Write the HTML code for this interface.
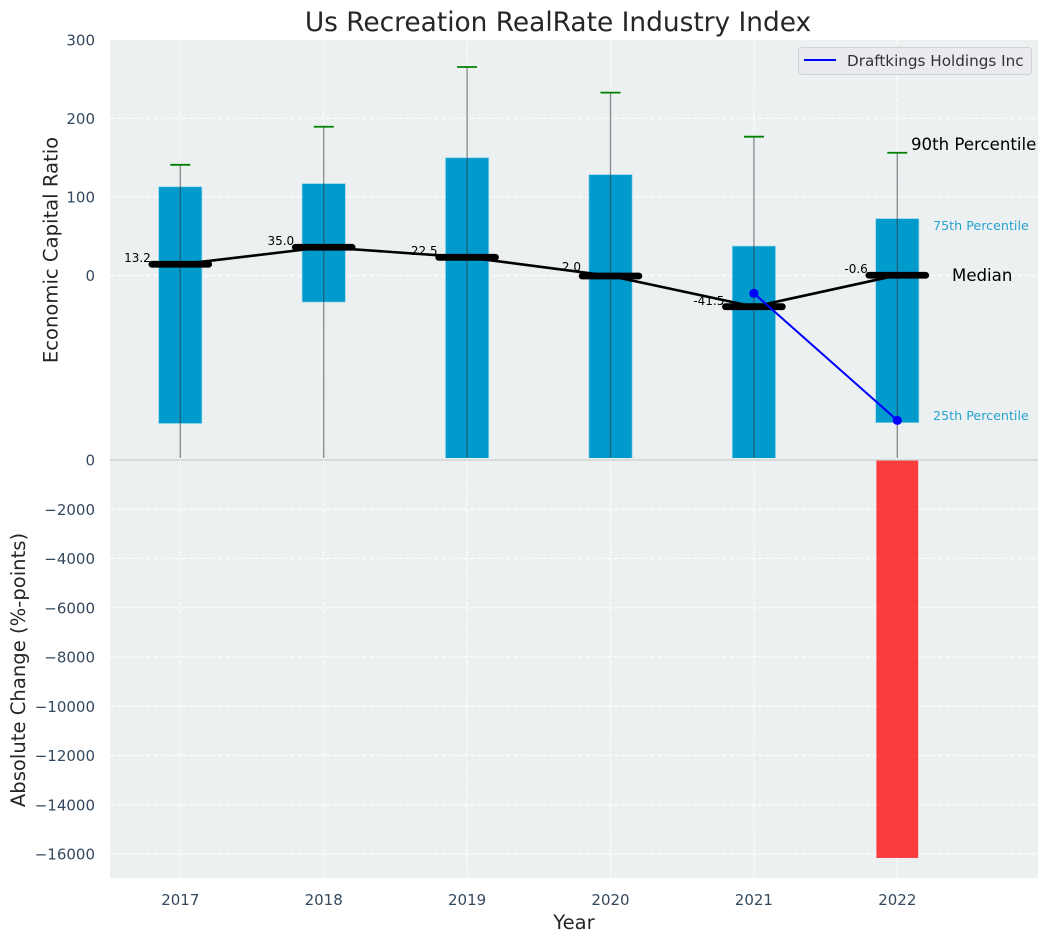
<!DOCTYPE html>
<html lang="en">
<head>
<meta charset="utf-8">
<title>Us Recreation RealRate Industry Index</title>
<style>
html,body{margin:0;padding:0;background:#fff;}
svg{display:block;}
text{font-family:"DejaVu Sans","Liberation Sans",sans-serif;}
</style>
</head>
<body>
<svg id="chart" xmlns="http://www.w3.org/2000/svg" width="1048" height="942" viewBox="0 0 1048 942">
  <defs>
    <clipPath id="top-clip"><rect x="110" y="40" width="928" height="418"></rect></clipPath>
    <clipPath id="bottom-clip"><rect x="110" y="460" width="928" height="418"></rect></clipPath>
  </defs>
  <rect x="110" y="40" width="928" height="419" fill="#ecf0f1"></rect>
  <rect x="110" y="459" width="928" height="419" fill="#ecf0f1"></rect>
  <g id="grid"></g>
  <g id="top-marks" clip-path="url(#top-clip)"></g>
  <g id="bottom-marks" clip-path="url(#bottom-clip)"></g>
  <line x1="110" x2="1038" y1="460" y2="460" stroke="#cccccc" stroke-width="1.2"></line>
  <g id="tick-labels"></g>

  <text x="558" y="31" text-anchor="middle" font-size="26.4" fill="#262626">Us Recreation RealRate Industry Index</text>
  <text transform="translate(57.5,250) rotate(-90)" text-anchor="middle" font-size="19.6" fill="#262626">Economic Capital Ratio</text>
  <text transform="translate(25,670) rotate(-90)" text-anchor="middle" font-size="19.6" fill="#262626">Absolute Change (%-points)</text>
  <text x="574" y="929" text-anchor="middle" font-size="19.6" fill="#262626">Year</text>

  <text x="911" y="150" font-size="16.6" fill="#000">90th Percentile</text>
  <text x="933" y="230" font-size="12.7" fill="#27a3cf">75th Percentile</text>
  <text x="952" y="281" font-size="16.6" fill="#000">Median</text>
  <text x="933" y="420" font-size="12.7" fill="#27a3cf">25th Percentile</text>

  <g>
    <rect x="798.5" y="47.5" width="233" height="27" rx="3" fill="#e9ebf0" stroke="#d0d2d6" stroke-width="1"></rect>
    <line x1="804" x2="836" y1="60" y2="60" stroke="#0000ff" stroke-width="2"></line>
    <text x="847" y="66" font-size="15.2" fill="#333333">Draftkings Holdings Inc</text>
  </g>
</svg>
<script>
const years = [2017, 2018, 2019, 2020, 2021, 2022];
const p90 = [141, 189.5, 265.6, 233, 176.8, 156.4];
const q75 = [113, 117, 150, 128.5, 37.5, 72.4];
const medians = [14.3, 36, 23.2, -0.6, -39.7, 0.3];
const q25 = [-188.5, -33.8, -260, -270, -250, -187.5];
const p10 = [-280, -300, -320, -310, -290, -290];
const medianLabels = [13.2, 35.0, 22.5, 2.0, -41.5, -0.6];
const companyYears = [2021, 2022];
const companyValues = [-22.7, -184.5];
const changeYears = [2022];
const changeValues = [-16160];
const topTicks = [300, 200, 100, 0];
const bottomTicks = [0, -2000, -4000, -6000, -8000, -10000, -12000, -14000, -16000];

const SVGNS = 'http://www.w3.org/2000/svg';
const xS = function (year) { return 180.3 + (year - 2017) * 143.4; };
const yTop = function (v) { return 275.5 - v * 0.785; };
const yBot = function (v) { return 460 - v * 0.024625; };

function mk(parent, tag, attrs, text) {
  const el = document.createElementNS(SVGNS, tag);
  for (const k in attrs) { el.setAttribute(k, attrs[k]); }
  if (text !== undefined) { el.textContent = text; }
  parent.appendChild(el);
  return el;
}

const grid = document.getElementById('grid');
const topG = document.getElementById('top-marks');
const botG = document.getElementById('bottom-marks');
const labels = document.getElementById('tick-labels');
const gridStyle = { stroke: '#ffffff', 'stroke-width': 1.2, 'stroke-dasharray': '5 2.2', 'stroke-opacity': 0.85 };

years.forEach(function (yr) {
  const x = xS(yr);
  const g = mk(grid, 'line', Object.assign({ x1: x, x2: x, y1: 40, y2: 878 }, gridStyle));
  
  
  const t = mk(labels, 'text', { x: x, y: 905, 'text-anchor': 'middle', 'font-size': 15, fill: '#34495e' }, String(yr));
  
  
});

topTicks.forEach(function (v) {
  const y = yTop(v);
  if (v !== 300) {
    const g = mk(grid, 'line', Object.assign({ x1: 110, x2: 1038, y1: y, y2: y }, gridStyle));
    
    
  }
  const t = mk(labels, 'text', { x: 95, y: y + 5.5, 'text-anchor': 'end', 'font-size': 15, fill: '#34495e' }, String(v));
  
  
});

bottomTicks.forEach(function (v) {
  const y = yBot(v);
  if (v !== 0) {
    const g = mk(grid, 'line', Object.assign({ x1: 110, x2: 1038, y1: y, y2: y }, gridStyle));
    
    
  }
  const s = v < 0 ? '\u2212' + Math.abs(v) : String(v);
  const t = mk(labels, 'text', { x: 95, y: y + 5.5, 'text-anchor': 'end', 'font-size': 15, fill: '#34495e' }, s);
  
  
});

years.forEach(function (yr, i) {
  const x = xS(yr);
  const top = yTop(q75[i]);
  const bot = yTop(q25[i]);
  const bar = mk(topG, 'rect', { x: x - 21.6, y: top, width: 43.2, height: bot - top, fill: '#009acd', stroke: '#8fd3ea', 'stroke-width': 0.7 });
  
  
});

years.forEach(function (yr, i) {
  const x = xS(yr);
  const w = mk(topG, 'line', { x1: x, x2: x, y1: yTop(p90[i]), y2: yTop(p10[i]), stroke: '#3c4043', 'stroke-opacity': 0.6, 'stroke-width': 1.3 });
  
  
  const c = mk(topG, 'line', { x1: x - 10, x2: x + 10, y1: yTop(p90[i]), y2: yTop(p90[i]), stroke: '#008000', 'stroke-width': 1.8 });
  
  
});

years.forEach(function (yr, i) {
  const t = mk(topG, 'text', { x: xS(yr) - 29.5, y: yTop(medianLabels[i]) - 3, 'text-anchor': 'end', 'font-size': 12, fill: '#000' }, medianLabels[i].toFixed(1));
  
  
});

const medianPath = mk(topG, 'polyline', {
  points: years.map(function (yr, i) { return xS(yr) + ',' + yTop(medians[i]); }).join(' '),
  fill: 'none', stroke: '#000', 'stroke-width': 2.6, 'stroke-linejoin': 'round'
});



years.forEach(function (yr, i) {
  const x = xS(yr);
  const m = mk(topG, 'line', { x1: x - 28.4, x2: x + 28.4, y1: yTop(medians[i]), y2: yTop(medians[i]), stroke: '#000', 'stroke-width': 6.8, 'stroke-linecap': 'round' });
  
  
});

const companyLine = mk(topG, 'polyline', {
  points: companyYears.map(function (yr, i) { return xS(yr) + ',' + yTop(companyValues[i]); }).join(' '),
  fill: 'none', stroke: '#0000ff', 'stroke-width': 2
});



companyYears.forEach(function (yr, i) {
  const p = mk(topG, 'circle', { cx: xS(yr), cy: yTop(companyValues[i]), r: 4.6, fill: '#0000ff' });
  
  
});

changeYears.forEach(function (yr, i) {
  const x = xS(yr);
  const y = yBot(changeValues[i]);
  const b = mk(botG, 'rect', { x: x - 20.9, y: yBot(0), width: 41.8, height: y - yBot(0), fill: '#ff0000', 'fill-opacity': 0.75 });
  
  
});
</script>
</body>
</html>
